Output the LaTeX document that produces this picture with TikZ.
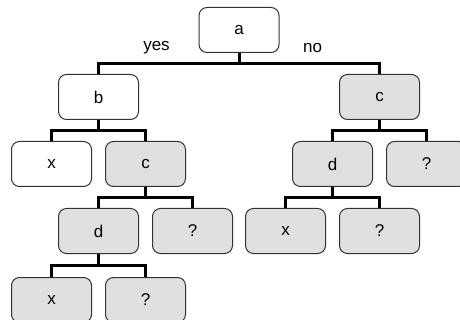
\documentclass[tikz,border=0pt]{standalone}
\usepackage{fontspec}
\setmainfont{Liberation Sans}
\usepackage{tikz}

\tikzset{
  box/.style={rectangle,rounded corners=8pt,draw=black!80,line width=1pt,
    fill=white,minimum width=80pt,minimum height=45pt,font=\fontsize{17pt}{20pt}\selectfont},
  greybox/.style={box,fill=black!12}
}

\begin{document}
\begin{tikzpicture}[level distance=67pt,
  level 1/.style={sibling distance=281pt},
  level/.style={sibling distance=94pt},
  level 4/.style={level distance=69pt},
  edge from parent/.style={draw,black,line width=3pt},
  edge from parent path={(\tikzparentnode.south) -- ++(0,-11pt) -| (\tikzchildnode.north)}]
\useasboundingbox (0,0) rectangle (460pt,-320pt);
\clip (0,0) rectangle (460pt,-320pt);
\node [box] (a) at (239pt,-30pt) {a}
    child {
  node [box] (b) {b}
    child {
    node [box] (bx) {x}
    }
    child {
    node [greybox] (bc) {c}
      child {
      node [greybox] (bcd) {d}
        child {
        node [greybox] (bcdx) {x}
        }
        child {
        node [greybox] (bcdq) {?}
        }
      }
      child {
      node [greybox] (bcq) {?}
      }
    }
  }
    child {
  node [greybox] (c) {c}
    child {
    node [greybox] (cd) {d}
      child {
      node [greybox] (cdx) {x}
      }
      child {
      node [greybox] (cdq) {?}
      }
    }
    child {
    node [greybox] (cq) {?}
    }
  }
  ;
\node [font=\fontsize{17pt}{20pt}\selectfont] (yes) at ([xshift=-42pt,yshift=-18pt]a.west) {yes};
\node [font=\fontsize{17pt}{20pt}\selectfont] (no) at ([xshift=33pt,yshift=-18pt]a.east) {no};
\end{tikzpicture}
\end{document}
